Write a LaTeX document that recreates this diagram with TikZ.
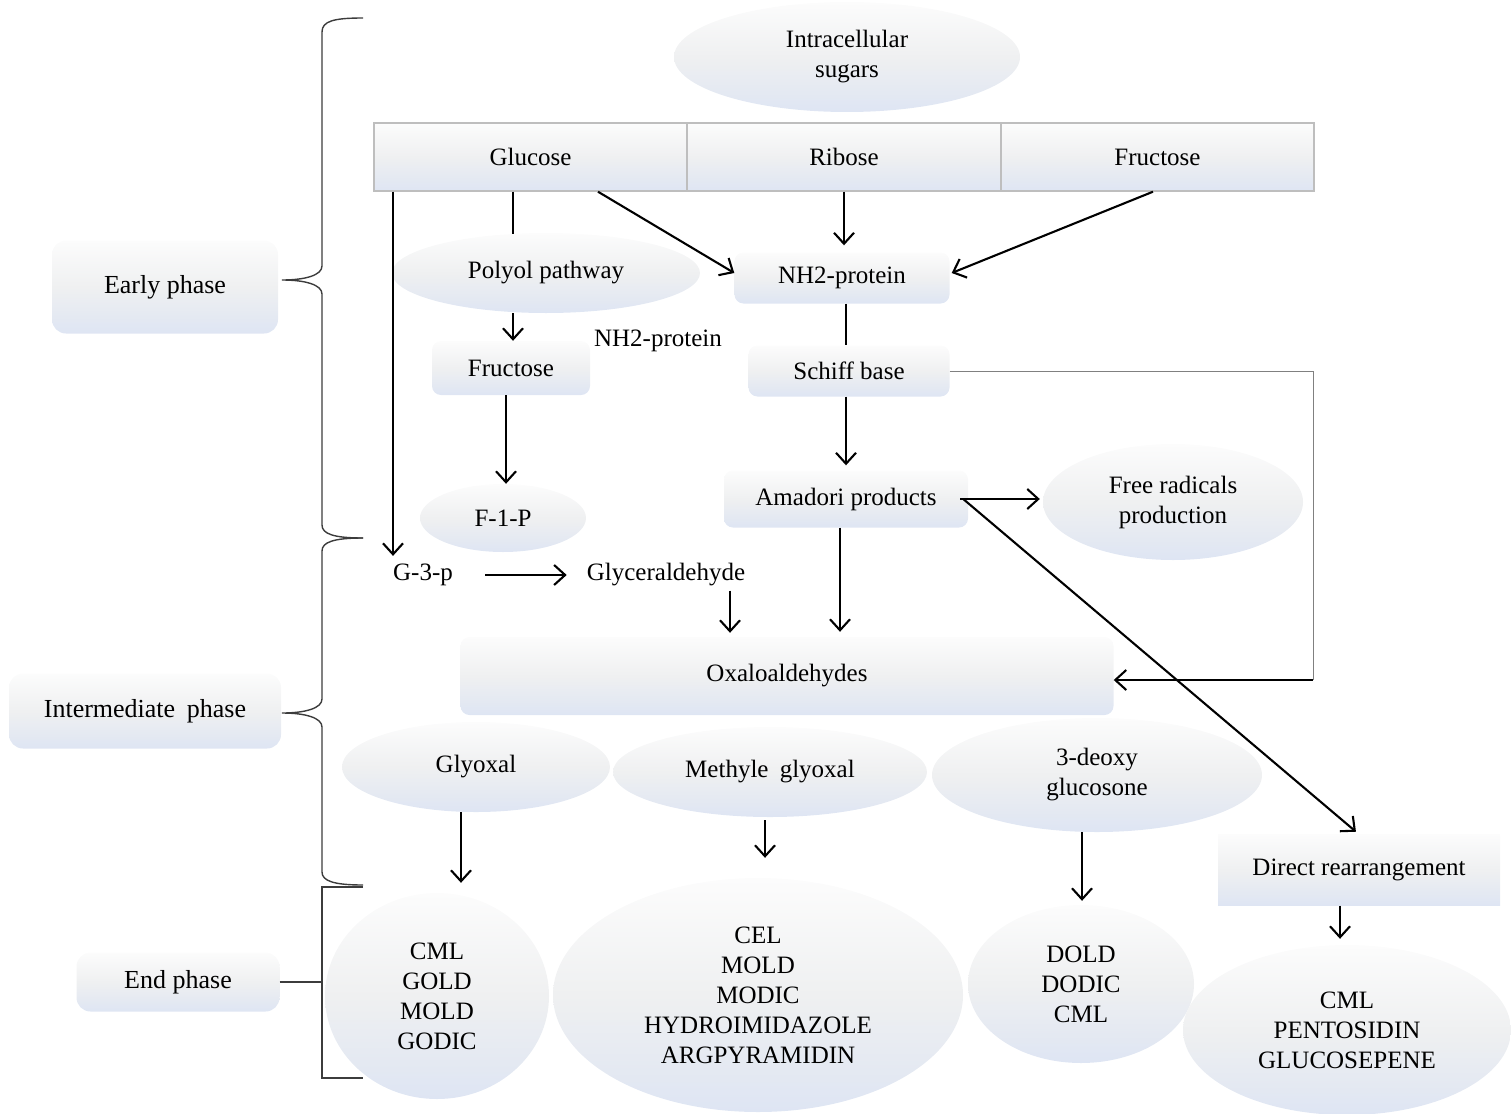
\documentclass[tikz,border=0pt]{standalone}
\usepackage{fontspec}
\setmainfont{Liberation Serif}
\usetikzlibrary{shapes.geometric,arrows.meta,calc}
\definecolor{gtop}{RGB}{252,252,252}
\definecolor{gmid}{RGB}{239,240,241}
\definecolor{gbot}{RGB}{222,229,243}
\definecolor{tabline}{RGB}{190,190,190}
\definecolor{bracecol}{RGB}{60,60,60}
\begin{document}
\begin{tikzpicture}[x=1pt,y=-1pt,
  grad/.style={top color=gtop, bottom color=gbot, middle color=gmid, draw=none},
  txt/.style={font=\fontsize{25}{30}\selectfont, align=center, inner sep=0pt},
  box/.style={grad, txt, rounded corners=9pt},
  phasebox/.style={grad, align=center, inner sep=0pt, rounded corners=14pt, font=\fontsize{26}{30}\selectfont},
  ell/.style={grad, txt, ellipse},
  tabcell/.style={grad, txt, draw=tabline, line width=1.4pt, minimum height=68pt},
  arr/.style={line width=2.1pt, -{Straight Barb[length=11pt,width=20pt,line width=2.1pt]}},
  plain/.style={line width=2.1pt},
  brace/.style={draw=bracecol, line width=1.4pt}
]
\useasboundingbox (0,0) rectangle (1511,1113);

% phase labels
\node[phasebox, minimum width=226pt, minimum height=93pt] (early) at (165,287) {Early phase};
\node[phasebox, minimum width=272pt, minimum height=75pt] (inter) at (145,711) {Intermediate\hspace{0.2em} phase};
\node[phasebox, minimum width=203pt, minimum height=59pt] (endph) at (178,982) {End phase};

% braces
\draw[brace] (363,18) .. controls (334,18) and (322,21) .. (322,32) -- (322,266)
  .. controls (322,275) and (306,280) .. (282,280)
  .. controls (306,280) and (322,285) .. (322,294) -- (322,525)
  .. controls (322,534) and (334,538) .. (363,538);
\draw[brace] (363,538) .. controls (334,538) and (322,542) .. (322,551) -- (322,699)
  .. controls (322,708) and (306,713) .. (282,713)
  .. controls (306,713) and (322,718) .. (322,727) -- (322,872)
  .. controls (322,881) and (334,885) .. (363,885);
\draw[brace] (363,887) -- (322,887) -- (322,1078) -- (363,1078);
\draw[brace] (endph.east) -- (322,982);

% top
\node[ell, minimum width=346pt, minimum height=110pt] (intra) at (847,57) {Intracellular\\sugars};
\node[tabcell, minimum width=313pt] (glu) at (530.5,157) {Glucose};
\node[tabcell, minimum width=314pt] (rib) at (844,157) {Ribose};
\node[tabcell, minimum width=313pt] (fru) at (1157.5,157) {Fructose};

% early nodes
\node[ell, minimum width=308pt, minimum height=80pt] (pol) at (546,273) {Polyol pathway};
\node[box, minimum width=215pt, minimum height=51pt] (nh2) at (842,278) {NH2-protein};
\node[txt] (nh2t) at (658,341) {NH2-protein};
\node[box, minimum width=158pt, minimum height=54pt] (fruL) at (511,368) {Fructose};
\node[box, minimum width=201pt, minimum height=51pt] (schiff) at (849,371) {Schiff base};
\node[ell, minimum width=166pt, minimum height=68pt] (f1p) at (503,518) {F-1-P};
\node[box, minimum width=244pt, minimum height=57pt] (ama) at (846,499) {Amadori products};
\node[ell, minimum width=260pt, minimum height=116pt] (free) at (1173,502) {Free radicals\\production};

% intermediate
\node[txt] (g3p) at (423,575) {G-3-p};
\node[txt] (gly) at (666,575) {Glyceraldehyde};
\node[box, minimum width=653pt, minimum height=78pt] (oxa) at (787,676) {Oxaloaldehydes};
\node[ell, minimum width=268pt, minimum height=90pt] (glyox) at (476,767) {Glyoxal};
\node[ell, minimum width=314pt, minimum height=90pt] (meth) at (770,772) {Methyle\hspace{0.2em} glyoxal};
\node[ell, minimum width=330pt, minimum height=114pt] (deoxy) at (1097,775) {3-deoxy\\glucosone};
\node[grad, txt, minimum width=282pt, minimum height=71pt] (dir) at (1359,870) {Direct rearrangement};

% end
\node[ell, minimum width=224pt, minimum height=206pt] (e1) at (437,996) {CML\\GOLD\\MOLD\\GODIC};
\node[ell, minimum width=410pt, minimum height=234pt] (e2) at (758,995) {CEL\\MOLD\\MODIC\\HYDROIMIDAZOLE\\ARGPYRAMIDIN};
\node[ell, minimum width=226pt, minimum height=158pt] (e3) at (1081,984) {DOLD\\DODIC\\CML};
\node[ell, minimum width=328pt, minimum height=170pt] (e4) at (1347,1030) {CML\\PENTOSIDIN\\GLUCOSEPENE};

% helper x positions
\coordinate (xa) at (393,0);
\coordinate (xb) at (513,0);
\coordinate (xc) at (506,0);
\coordinate (xd) at (598,0);
\coordinate (xe) at (1153,0);
\coordinate (xf) at (846,0);
\coordinate (xg) at (840,0);
\coordinate (xh) at (730,0);
\coordinate (xi) at (461,0);
\coordinate (xj) at (765,0);
\coordinate (xk) at (1082,0);
\coordinate (xl) at (1340,0);
\coordinate (corner) at (1313,680);

% connectors
\draw[arr, shorten >=8pt] (glu.south -| xa) -- (g3p.north -| xa);
\draw[plain] (glu.south -| xb) -- ([yshift=-1pt]pol.north -| xb);
\draw[arr] (pol.south -| xb) -- (fruL.north -| xb);
\draw[arr] (fruL.south -| xc) -- (f1p.north -| xc);
\draw[arr] (glu.south -| xd) -- ([yshift=5pt]nh2.west);
\draw[arr, shorten >=7pt] (rib.south) -- (rib.south |- nh2.north);
\draw[arr] (fru.south -| xe) -- ([yshift=5pt,xshift=2pt]nh2.east);
\draw[plain] (nh2.south -| xf) -- (schiff.north -| xf);
\draw[arr, shorten >=5pt] (schiff.south -| xf) -- (ama.north -| xf);
\draw[line width=1pt, draw=gray] (schiff.east) -| (corner);
\draw[arr] (corner) -- (oxa.east |- corner);
\draw[arr, shorten <=-3pt, shorten >=3pt] ([xshift=-5pt]ama.east) -- (free.west |- ama.east);
\draw[arr, shorten >=4pt] ([xshift=-5pt]ama.east) -- (dir.north);
\draw[arr, shorten >=5pt] (ama.south -| xg) -- (oxa.north -| xg);
\draw[arr, shorten <=32pt, shorten >=20pt] (g3p.east) -- (gly.west);
\draw[arr, shorten <=4pt, shorten >=4pt] (gly.south -| xh) -- (oxa.north -| xh);
\draw[arr, shorten >=10pt] (glyox.south -| xi) -- (e1.north -| xi);
\draw[arr, shorten <=3pt, shorten >=20pt] (meth.south -| xj) -- (e2.north -| xj);
\draw[arr, shorten >=4pt] (deoxy.south -| xk) -- (e3.north -| xk);
\draw[arr, shorten >=6pt] (dir.south -| xl) -- (e4.north -| xl);
\end{tikzpicture}
\end{document}
